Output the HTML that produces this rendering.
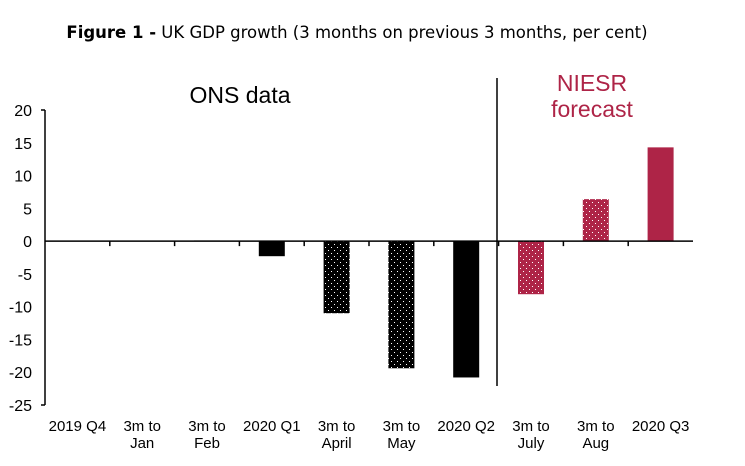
<!DOCTYPE html>
<html><head><meta charset="utf-8"><style>
body{margin:0;background:#fff;}
svg{display:block;font-family:"Liberation Sans",Arial,sans-serif;}
</style></head><body>
<svg id="chart" width="745" height="466">
<defs>
<pattern id="dotsK" width="6" height="6" patternUnits="userSpaceOnUse">
<rect width="6" height="6" fill="#000"/><rect x="1" y="1" width="1" height="1" fill="#fff"/><rect x="4" y="4" width="1" height="1" fill="#fff"/>
</pattern>
<pattern id="dotsR" width="6" height="6" patternUnits="userSpaceOnUse">
<rect width="6" height="6" fill="#ae2447"/><rect x="1" y="1" width="1" height="1" fill="#fff"/><rect x="4" y="4" width="1" height="1" fill="#fff"/>
</pattern>
</defs>
<text x="357" y="38" text-anchor="middle" font-size="16.5" font-family="'DejaVu Sans',sans-serif"><tspan font-weight="bold">Figure 1 -</tspan> UK GDP growth (3 months on previous 3 months, per cent)</text>
<text x="240" y="103" text-anchor="middle" font-size="23">ONS data</text>
<text x="592" y="91" text-anchor="middle" font-size="23" fill="#ae2447">NIESR</text>
<text x="592" y="117" text-anchor="middle" font-size="23" fill="#ae2447">forecast</text>
<g id="g"></g>
</svg>
<script>
const categories=[["2019 Q4"],["3m to","Jan"],["3m to","Feb"],["2020 Q1"],["3m to","April"],["3m to","May"],["2020 Q2"],["3m to","July"],["3m to","Aug"],["2020 Q3"]];
const values=[0,0,0.1,-2.3,-11.0,-19.4,-20.8,-8.1,6.4,14.3];
const fills=["k","k","k","k","dk","dk","k","dr","dr","r"];
const yTicks=[20,15,10,5,0,-5,-10,-15,-20,-25];
const NS="http://www.w3.org/2000/svg";
const g=document.getElementById('g');
const x0=45,x1=693,yTop=110,yBot=405;
const y=v=>yTop+(20-v)*(yBot-yTop)/45;
const bw=(x1-x0)/categories.length;
function mk(t,a,p){const e=document.createElementNS(NS,t);for(const k in a)e.setAttribute(k,a[k]);(p||g).appendChild(e);return e;}
const fillMap={k:"#000",r:"#ae2447",dk:"url(#dotsK)",dr:"url(#dotsR)"};
values.forEach((v,i)=>{
 const cx=x0+bw*(i+0.5);
 const r=mk('rect',{x:cx-13,y:Math.min(y(v),y(0)),width:26,height:Math.max(Math.abs(y(v)-y(0)),v===0?0:1),fill:fillMap[fills[i]]});
 
 
 categories[i].forEach((s,j)=>{
  const t=mk('text',{x:cx,y:431+j*17,'text-anchor':'middle','font-size':15});
  t.textContent=s;
  
  
 });
 if(i>0){mk('line',{x1:x0+bw*i,x2:x0+bw*i,y1:y(0),y2:y(0)+5,stroke:'#000','stroke-width':1.5});}
});
yTicks.forEach(v=>{
 const t=mk('text',{x:32,y:y(v)+6,'text-anchor':'end','font-size':16});
 t.textContent=v;
 
 
});
mk('line',{x1:x0,x2:x0,y1:yTop,y2:yBot,stroke:'#000','stroke-width':1.5});
mk('line',{x1:x0-4,x2:x0,y1:yTop,y2:yTop,stroke:'#000','stroke-width':1.5});
mk('line',{x1:x0-4,x2:x0,y1:yBot,y2:yBot,stroke:'#000','stroke-width':1.5});
mk('line',{x1:x0,x2:x1,y1:y(0),y2:y(0),stroke:'#000','stroke-width':1.5});
const d=mk('line',{x1:497,x2:497,y1:78,y2:386,stroke:'#000','stroke-width':1.5});


</script>
</body></html>
